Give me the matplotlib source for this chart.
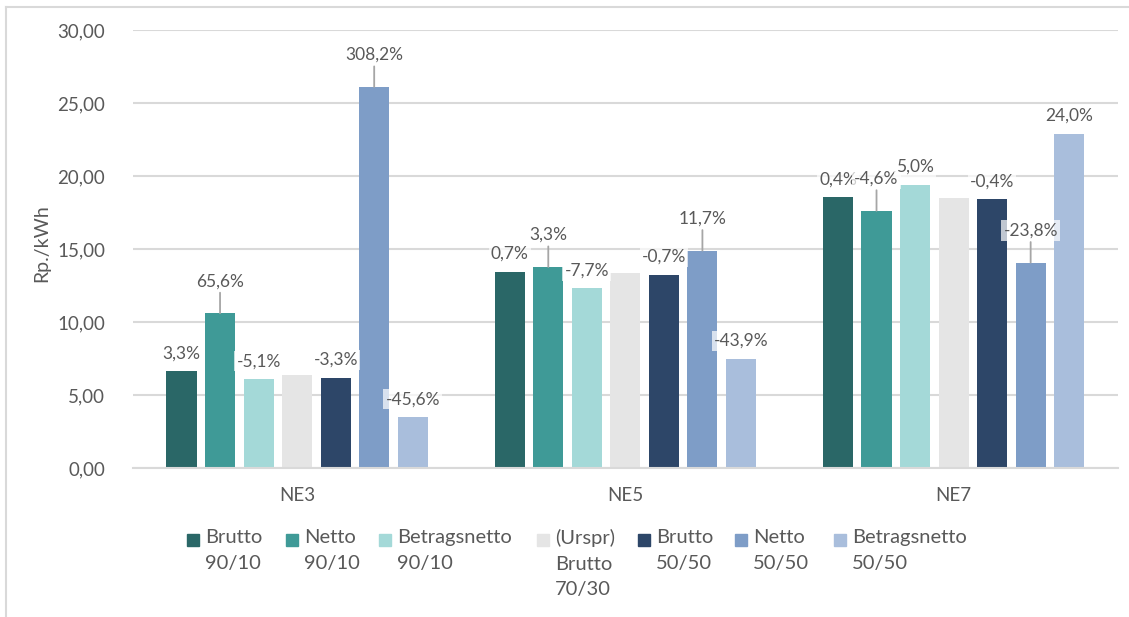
import matplotlib
matplotlib.use("Agg")
import matplotlib.pyplot as plt
from matplotlib.patches import Rectangle
from matplotlib.lines import Line2D

plt.rcParams['font.family'] = ['Lato', 'DejaVu Sans']

# Network levels
categories = ["NE3", "NE5", "NE7"]

# Tariff values in Rp./kWh per variant
brutto_90_10 = [6.61, 13.42, 18.54]
netto_90_10 = [10.60, 13.77, 17.62]
betragsnetto_90_10 = [6.07, 12.30, 19.40]
urspr_brutto_70_30 = [6.40, 13.33, 18.47]
brutto_50_50 = [6.19, 13.24, 18.40]
netto_50_50 = [26.10, 14.89, 14.07]
betragsnetto_50_50 = [3.48, 7.48, 22.90]

# Change against the original Brutto 70/30 variant
pct_brutto_90_10 = ["3,3%", "0,7%", "0,4%"]
pct_netto_90_10 = ["65,6%", "3,3%", "-4,6%"]
pct_betragsnetto_90_10 = ["-5,1%", "-7,7%", "5,0%"]
pct_brutto_50_50 = ["-3,3%", "-0,7%", "-0,4%"]
pct_netto_50_50 = ["308,2%", "11,7%", "-23,8%"]
pct_betragsnetto_50_50 = ["-45,6%", "-43,9%", "24,0%"]

series_names = ["Brutto\n90/10", "Netto\n90/10", "Betragsnetto\n90/10",
                "(Urspr)\nBrutto\n70/30", "Brutto\n50/50", "Netto\n50/50",
                "Betragsnetto\n50/50"]
series_values = [brutto_90_10, netto_90_10, betragsnetto_90_10,
                 urspr_brutto_70_30, brutto_50_50, netto_50_50,
                 betragsnetto_50_50]
series_labels = [pct_brutto_90_10, pct_netto_90_10, pct_betragsnetto_90_10,
                 None, pct_brutto_50_50, pct_netto_50_50,
                 pct_betragsnetto_50_50]
colors = ["#2a6767", "#3f9a97", "#a4d9d8", "#e5e5e5",
          "#2d4668", "#7e9dc7", "#a9bedc"]
# Netto series get their labels lifted with a leader line
leader = [False, True, False, False, False, True, False]

W, H = 1129, 617
fig = plt.figure(figsize=(W / 100, H / 100), dpi=100)
ax = fig.add_axes([133 / W, 1 - 468 / H, (1117.7 - 133) / W, (468 - 30) / H])

text_col = "#595959"
grid_col = "#d9d9d9"
pitch = 0.1174
width = 0.0915
n = len(series_values)

for j, (vals, col) in enumerate(zip(series_values, colors)):
    xs = [i + (j - (n - 1) / 2) * pitch for i in range(len(categories))]
    ax.bar(xs, vals, width=width, color=col, zorder=2)
    labels = series_labels[j]
    if labels is None:
        continue
    for x, v, lab in zip(xs, vals, labels):
        dy = 32 if leader[j] else 18
        arrow = dict(arrowstyle="-", color="#a6a6a6", lw=1.3,
                     shrinkA=1, shrinkB=0) if leader[j] else None
        ax.annotate(lab, xy=(x, v), xytext=(0, dy), textcoords="offset pixels",
                    ha="center", va="center", fontsize=12.5, color=text_col,
                    bbox=dict(boxstyle="square,pad=0.12", fc="white",
                              ec="none", alpha=0.7),
                    arrowprops=arrow, zorder=4)

ax.set_xlim(-0.5, len(categories) - 0.5)
ax.set_ylim(0, 30)
ax.set_yticks([0, 5, 10, 15, 20, 25, 30])
ax.set_yticklabels([f"{t:.2f}".replace(".", ",") for t in ax.get_yticks()],
                   fontsize=13.5, color=text_col)
ax.set_xticks(range(len(categories)))
ax.set_xticklabels(categories, fontsize=13.5, color=text_col)
ax.tick_params(axis="y", length=0, pad=20)
ax.tick_params(axis="x", length=0, pad=14)
ax.grid(axis="y", color=grid_col, lw=1.5, zorder=0)
ax.set_axisbelow(True)
for s in ["top", "right", "left"]:
    ax.spines[s].set_visible(False)
ax.spines["bottom"].set_color(grid_col)
ax.spines["bottom"].set_linewidth(1.5)

fig.text(42 / W, 1 - 243 / H, "Rp./kWh", rotation=90, ha="center",
         va="center", fontsize=14, color=text_col)

# Legend laid out in one row with wrapped entry names
marker_left = [187, 286, 379, 537, 638, 735, 834]
for name, col, mx in zip(series_names, colors, marker_left):
    fig.add_artist(Rectangle((mx / W, 1 - 546 / H), 12 / W, 12 / H,
                             transform=fig.transFigure, color=col))
    fig.text((mx + 18) / W, 1 - 529 / H, name, ha="left", va="top",
             fontsize=14.5, color=text_col, linespacing=1.62)

# Chart area frame
fig.add_artist(Line2D([6 / W, 1], [1 - 7 / H, 1 - 7 / H],
                      transform=fig.transFigure, color=grid_col, lw=1.5))
fig.add_artist(Line2D([6 / W, 6 / W], [0, 1 - 7 / H],
                      transform=fig.transFigure, color=grid_col, lw=1.5))

fig.savefig("out.png", dpi=100)
